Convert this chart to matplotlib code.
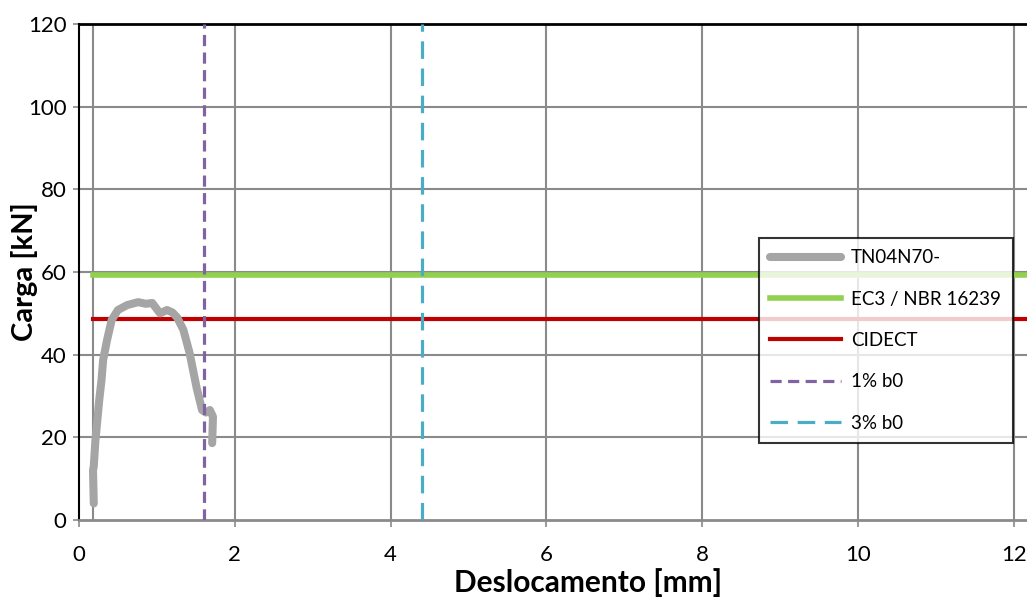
import matplotlib.pyplot as plt

# dados do ensaio TN04N70- (deslocamento em mm, carga em kN)
desloc = [0.19, 0.18, 0.19, 0.21, 0.24, 0.26, 0.29, 0.31, 0.36, 0.42, 0.50, 0.62,
          0.76, 0.86, 0.94, 1.04, 1.13, 1.20, 1.26, 1.34, 1.42, 1.51, 1.58, 1.63,
          1.68, 1.72, 1.71]
carga = [4.0, 12.0, 13.0, 19.0, 25.0, 29.0, 34.0, 38.7, 43.5, 48.4, 50.8, 52.0,
         52.7, 52.3, 52.5, 50.0, 50.8, 50.2, 49.0, 46.0, 40.4, 32.0, 26.6, 26.0,
         26.6, 25.0, 18.6]

carga_ec3 = 59.3
carga_cidect = 48.6
desloc_1pct = 1.60
desloc_3pct = 4.40
desloc_inicio = 0.18

xticks = [0, 2, 4, 6, 8, 10, 12]
yticks = [0, 20, 40, 60, 80, 100, 120]

plt.rcParams['font.family'] = ['Lato', 'DejaVu Sans']

fig = plt.figure(figsize=(10.27, 5.99), dpi=100)
ax = fig.add_axes([0.0769, 0.1319, 0.9231, 0.8281])

grid_cor = '#8a8a8a'
for v in xticks[1:]:
    ax.axvline(v, color=grid_cor, lw=1.5, zorder=1)
ax.axvline(desloc_inicio, color=grid_cor, lw=1.5, zorder=1)
for v in yticks[1:]:
    ax.axhline(v, color=grid_cor, lw=1.5, zorder=1)

ax.plot(desloc, carga, color='#a5a5a5', lw=5.8, solid_capstyle='round',
        solid_joinstyle='round', label='TN04N70-', zorder=3)
ax.axhline(carga_ec3, xmin=desloc_inicio / 12.17, color='#92d050', lw=4,
           label='EC3 / NBR 16239', zorder=2)
ax.axhline(carga_cidect, xmin=desloc_inicio / 12.17, color='#c00000', lw=3,
           label='CIDECT', zorder=2)
ax.plot([desloc_1pct, desloc_1pct], [0, 120], color='#8064a2', lw=2.3,
        dashes=(3.5, 2), label='1% b0', zorder=4)
ax.plot([desloc_3pct, desloc_3pct], [0, 120], color='#4bacc6', lw=2.3,
        dashes=(5.5, 3), label='3% b0', zorder=4)

ax.set_xlim(0, 12.17)
ax.set_ylim(0, 120)
ax.set_xticks(xticks)
ax.set_yticks(yticks)
ax.tick_params(labelsize=16, colors='black', length=5, width=1.2)
ax.tick_params(axis='x', color=grid_cor, pad=13)
ax.tick_params(axis='y', color=grid_cor, length=4, pad=5)

ax.spines['right'].set_visible(False)
ax.spines['top'].set_color('black')
ax.spines['top'].set_linewidth(2)
ax.spines['left'].set_color('black')
ax.spines['left'].set_linewidth(1.5)
ax.spines['bottom'].set_color(grid_cor)
ax.spines['bottom'].set_linewidth(2)

ax.set_xlabel('Deslocamento [mm]', fontsize=21.5, fontweight='bold')
ax.xaxis.set_label_coords(0.537, -0.097)
ax.set_ylabel('Carga [kN]', fontsize=21, fontweight='bold')
ax.yaxis.set_label_coords(-0.0432, 0.5)

leg = ax.legend(loc='upper left', bbox_to_anchor=(0.7173, 0.5685, 0.268, 0.0),
                mode='expand', fontsize=13.5,
                frameon=True, fancybox=False, edgecolor='black',
                borderpad=0.6, labelspacing=1.3, handlelength=3.8,
                handletextpad=0.5, borderaxespad=0)
leg.get_frame().set_linewidth(1.5)
leg.set_zorder(5)

plt.savefig('out.png', dpi=100)
